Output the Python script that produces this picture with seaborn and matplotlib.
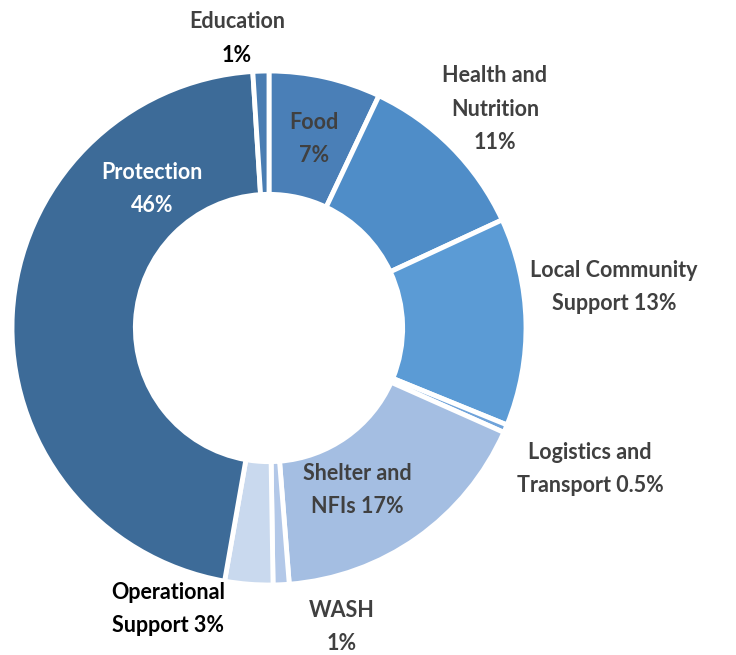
import matplotlib
matplotlib.use("Agg")
import matplotlib.pyplot as plt
import seaborn as sns

sns.set_theme(style="white")
plt.rcParams['font.family'] = ['Lato', 'DejaVu Sans']

categories = ["Food", "Health and Nutrition", "Local Community Support",
              "Logistics and Transport", "Shelter and NFIs", "WASH",
              "Operational Support", "Protection", "Education"]
values = [7, 11, 13, 0.5, 17, 1, 3, 46, 1]
label_texts = ["Food\n7%", "Health and\nNutrition\n11%", "Local Community\nSupport 13%",
               "Logistics and\nTransport 0.5%", "Shelter and\nNFIs 17%", "WASH\n1%",
               "Operational\nSupport 3%", "Protection\n46%", "Education\n1%"]
colors = ["#4A7FB7", "#4F8DC8", "#5B9BD5", "#6FA3DA", "#A4BEE2", "#B3C8E8",
          "#C9D9EE", "#3D6B98", "#4A7DB2"]

W, H = 736, 655
fig = plt.figure(figsize=(W / 100, H / 100), dpi=100)
cx, cy, R = 269, 328, 257
ax = fig.add_axes([(cx - R) / W, (H - cy - R) / H, 2 * R / W, 2 * R / H])
ax.pie(values, colors=colors, startangle=90, counterclock=False, radius=1,
       wedgeprops=dict(width=0.48, edgecolor="white", linewidth=3.5))
ax.set_xlim(-1, 1)
ax.set_ylim(-1, 1)
ax.set_aspect("equal")
ax.axis("off")

def ftext(x, y, s, color="#404040", **kw):
    fig.text(x / W, 1 - y / H, s, ha="center", va="center", color=color,
             fontsize=15.5, fontweight="bold", linespacing=1.75, **kw)

ftext(237, 22, "Education")
ftext(237, 55, "1%", color="black")
ftext(314, 139, label_texts[0])
ftext(495, 109, label_texts[1])
ftext(614, 287, label_texts[2])
ftext(590, 469, label_texts[3])
ftext(357, 490, label_texts[4])
ftext(342, 627, label_texts[5])
ftext(168, 609, label_texts[6], color="black")
ftext(152, 189, label_texts[7], color="white")

fig.savefig("out.png", dpi=100)
